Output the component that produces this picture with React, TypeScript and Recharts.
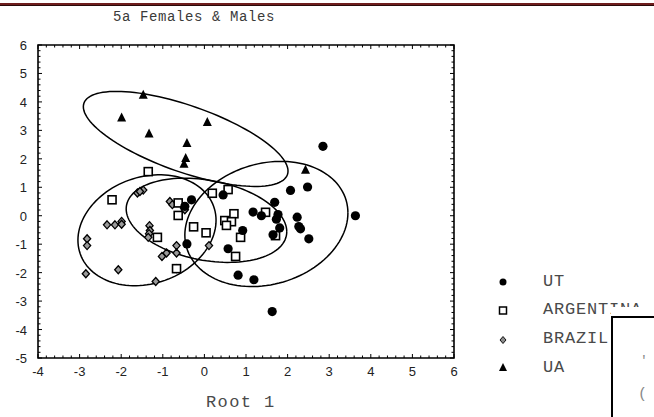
import React from "react";
import { ScatterChart, Scatter, XAxis, YAxis, ReferenceArea } from "recharts";

// group values (Root 1 on x, Root 2 on y)
const utX = [2.85, 2.07, 2.48, 1.69, 1.17, 1.37, 1.73, 1.77, 2.23, 2.27, 2.31, 2.51, 1.81, 1.65, 0.92, 3.63, -0.31, -0.47, 0.45, -0.42, 0.57, 0.81, 1.19, 1.63];
const utY = [2.44, 0.89, 1.01, 0.47, 0.13, 0.0, -0.12, 0.04, -0.05, -0.38, -0.46, -0.81, -0.43, -0.67, -0.52, 0.0, 0.56, 0.33, 0.73, -0.99, -1.16, -2.09, -2.25, -3.37];

const argX = [-1.35, -2.22, -0.63, -0.63, -1.13, -0.26, 0.04, 0.19, -0.67, 0.57, 0.71, 0.49, 0.65, 0.53, 0.87, 0.75, 1.47, 1.71];
const argY = [1.55, 0.56, 0.45, 0.01, -0.76, -0.39, -0.6, 0.79, -1.86, 0.92, 0.07, -0.17, -0.21, -0.34, -0.76, -1.43, 0.12, -0.7];

const braX = [-1.61, -1.47, -1.55, -2.34, -2.15, -1.99, -1.99, -2.82, -2.82, -2.85, -2.07, -1.17, -1.32, -1.31, -1.33, -1.35, -1.02, -0.91, -0.67, -0.67, -0.83, -0.77, -0.49, -0.47, 0.11, 0.57, -0.67];
const braY = [0.8, 0.9, 0.85, -0.32, -0.32, -0.2, -0.3, -0.81, -1.05, -2.04, -1.9, -2.31, -0.35, -0.52, -0.63, -0.76, -1.43, -1.31, -1.05, -1.31, 0.5, 0.39, 0.27, 0.21, -1.05, 0.95, -1.86];

const uaX = [-1.47, -1.99, -1.33, 0.07, -0.42, -0.45, -0.49, 2.43];
const uaY = [4.25, 3.45, 2.89, 3.29, 2.56, 2.03, 1.83, 1.62];

// confidence ellipses: centre, half width, y-offset of the widest point, half height
const ellipseCx = [1.49, 0.05, -1.38, -0.45];
const ellipseCy = [-0.29, -0.16, -0.51, 2.7];
const ellipseHx = [1.96, 1.93, 1.66, 2.46];
const ellipseYo = [0.39, -0.4, 0.35, -1.13];
const ellipseHy = [2.2, 1.48, 1.95, 1.67];

const legendNames = ["UT", "ARGENTINA", "BRAZIL", "UA"];

const W = 654;
const H = 417;
const PLOT_TOP = 45;
const PLOT_BOTTOM = 358;
const PLOT_LEFT = 38;
const PLOT_RIGHT = 454;

const zip = (xs: number[], ys: number[]) => xs.map((x, i) => ({ x, y: ys[i] }));

const ellipse = (i: number) => {
  const vy = Math.sqrt(ellipseHy[i] ** 2 - ellipseYo[i] ** 2);
  const pts = [];
  for (let k = 0; k <= 120; k++) {
    const t = (k / 120) * Math.PI * 2;
    pts.push({
      x: ellipseCx[i] + ellipseHx[i] * Math.cos(t),
      y: ellipseCy[i] + ellipseYo[i] * Math.cos(t) + vy * Math.sin(t),
    });
  }
  return pts;
};

// major ticks every 1, minor every 0.2
const minor = (from: number, to: number) => {
  const out: number[] = [];
  for (let k = 0; k <= (to - from) * 5; k++) out.push(Math.round((from + k * 0.2) * 10) / 10);
  return out;
};

const isMajor = (v: number) => Math.abs(v - Math.round(v)) < 1e-6;

const XTick = (props: any) => {
  const { x, payload } = props;
  const v = payload.value;
  const len = isMajor(v) ? 4 : 2.5;
  return (
    <g>
      <line x1={x} x2={x} y1={PLOT_BOTTOM} y2={PLOT_BOTTOM - len} stroke="#000" strokeWidth={1} />
      <line x1={x} x2={x} y1={PLOT_TOP} y2={PLOT_TOP + len} stroke="#000" strokeWidth={1} />
      {isMajor(v) && (
        <text x={x} y={PLOT_BOTTOM + 18} textAnchor="middle" fontSize={13} fontFamily="Liberation Sans, Arial, sans-serif" fill="#222">
          {v}
        </text>
      )}
    </g>
  );
};

const YTick = (props: any) => {
  const { y, payload } = props;
  const v = payload.value;
  const len = isMajor(v) ? 4 : 2.5;
  return (
    <g>
      <line x1={PLOT_LEFT} x2={PLOT_LEFT + len} y1={y} y2={y} stroke="#000" strokeWidth={1} />
      <line x1={PLOT_RIGHT} x2={PLOT_RIGHT - len} y1={y} y2={y} stroke="#000" strokeWidth={1} />
      {isMajor(v) && (
        <text x={27} y={y + 5} textAnchor="end" fontSize={13} fontFamily="Liberation Sans, Arial, sans-serif" fill="#222">
          {v}
        </text>
      )}
    </g>
  );
};

const Dot = (p: any) => <circle cx={p.cx} cy={p.cy} r={4.6} fill="#000" />;
const Box = (p: any) => (
  <rect x={p.cx - 4} y={p.cy - 4} width={8} height={8} fill="#fff" stroke="#000" strokeWidth={1.6} />
);
const Diamond = (p: any) => (
  <polygon
    points={`${p.cx},${p.cy - 4} ${p.cx + 3.6},${p.cy} ${p.cx},${p.cy + 4} ${p.cx - 3.6},${p.cy}`}
    fill="#9a9a9a"
    stroke="#000"
    strokeWidth={1.3}
  />
);
const Tri = (p: any) => (
  <polygon points={`${p.cx},${p.cy - 5} ${p.cx + 4.5},${p.cy + 4} ${p.cx - 4.5},${p.cy + 4}`} fill="#000" />
);
const Nothing = () => <g />;

const mono = "Liberation Mono, Courier New, monospace";

export default function App() {
  return (
    <div style={{ position: "absolute", left: 0, top: 0, width: W, height: H, background: "#fff", overflow: "hidden" }}>
      <ScatterChart width={W} height={H} margin={{ top: PLOT_TOP, right: W - PLOT_RIGHT, bottom: 29, left: 8 }}>
        <XAxis
          type="number"
          dataKey="x"
          domain={[-4, 6]}
          ticks={minor(-4, 6)}
          interval={0}
          allowDataOverflow
          axisLine={false}
          tickLine={false}
          tickSize={0}
          height={30}
          tick={(p: any) => <XTick {...p} />}
        />
        <YAxis
          type="number"
          dataKey="y"
          domain={[-5, 6]}
          ticks={minor(-5, 6)}
          interval={0}
          allowDataOverflow
          axisLine={false}
          tickLine={false}
          tickSize={0}
          width={30}
          tick={(p: any) => <YTick {...p} />}
        />
        <ReferenceArea x1={-4} x2={6} y1={-5} y2={6} fill="none" stroke="#000" strokeWidth={1.6} ifOverflow="visible" />
        {ellipseCx.map((_, i) => (
          <Scatter
            key={"e" + i}
            data={ellipse(i)}
            line={{ stroke: "#000", strokeWidth: 1.5 }}
            lineType="joint"
            shape={Nothing}
            isAnimationActive={false}
            legendType="none"
          />
        ))}
        <Scatter name="BRAZIL" data={zip(braX, braY)} shape={Diamond} isAnimationActive={false} />
        <Scatter name="ARGENTINA" data={zip(argX, argY)} shape={Box} isAnimationActive={false} />
        <Scatter name="UT" data={zip(utX, utY)} shape={Dot} isAnimationActive={false} />
        <Scatter name="UA" data={zip(uaX, uaY)} shape={Tri} isAnimationActive={false} />
      </ScatterChart>

      <svg width={W} height={H} style={{ position: "absolute", left: 0, top: 0, pointerEvents: "none" }}>
        <line x1={0} x2={W} y1={4} y2={4} stroke="#6e1d1d" strokeWidth={2} />
        <line x1={0} x2={W} y1={5.5} y2={5.5} stroke="#2a0a0a" strokeWidth={1} />
        <text x={113} y={21} fontSize={14} letterSpacing={0.6} fontFamily={mono} fill="#3a3a3a">
          5a Females &amp; Males
        </text>
        <text x={206} y={407} fontSize={17} letterSpacing={1.4} fontFamily={mono} fill="#4a4a4a">
          Root 1
        </text>

        <circle cx={503} cy={282} r={3.5} fill="#000" />
        <rect x={499.5} y={307} width={7} height={7} fill="#fff" stroke="#000" strokeWidth={1.5} />
        <polygon points="503,336.5 506,340 503,343.5 500,340" fill="#8c8c8c" stroke="#111" strokeWidth={1} />
        <polygon points="503,363 507,371 499,371" fill="#000" />
        {legendNames.map((n, i) => (
          <text key={n} x={543} y={[286, 314, 343, 372][i]} fontSize={17} letterSpacing={0.8} fontFamily={mono} fill="#4a4a4a">
            {n}
          </text>
        ))}

        <rect x={611} y={307} width={50} height={120} fill="#fff" />
        <rect x={612} y={317} width={60} height={120} fill="#fff" stroke="#000" strokeWidth={2} />
        <text x={640} y={364} fontSize={13} fontFamily={mono} fill="#888">'</text>
        <text x={638} y={398} fontSize={15} fontFamily={mono} fill="#888">(</text>
      </svg>
    </div>
  );
}
